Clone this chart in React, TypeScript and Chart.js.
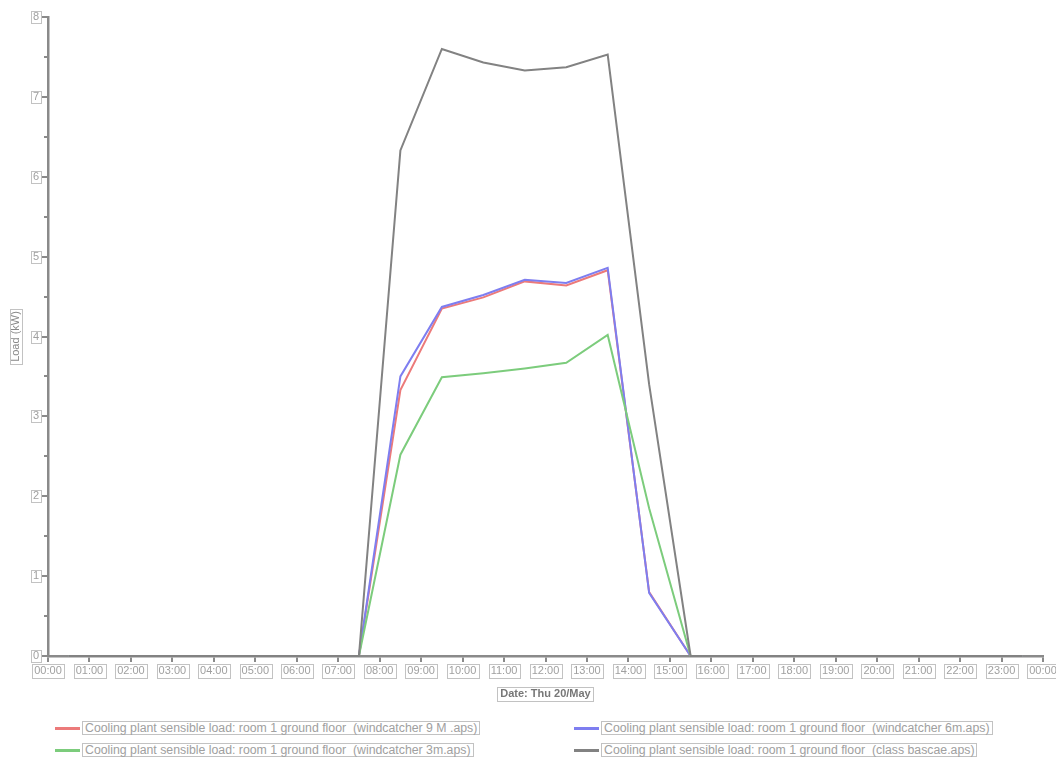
import React, { useEffect, useRef } from "react";
import { Chart, registerables } from "chart.js";

Chart.register(...registerables);

const TIMES = [
  "00:30", "01:30", "02:30", "03:30", "04:30", "05:30", "06:30", "07:30",
  "08:30", "09:30", "10:30", "11:30", "12:30", "13:30", "14:30", "15:30",
  "16:30", "17:30", "18:30", "19:30", "20:30", "21:30", "22:30", "23:30",
];

const TICK_LABELS = [
  "00:00", "01:00", "02:00", "03:00", "04:00", "05:00", "06:00", "07:00",
  "08:00", "09:00", "10:00", "11:00", "12:00", "13:00", "14:00", "15:00",
  "16:00", "17:00", "18:00", "19:00", "20:00", "21:00", "22:00", "23:00", "00:00",
];

const Y_TICKS = ["0", "1", "2", "3", "4", "5", "6", "7", "8"];

const WIND_9M = [0, 0, 0, 0, 0, 0, 0, 0, 3.33, 4.35, 4.49, 4.69, 4.64, 4.83, 0.8, 0, 0, 0, 0, 0, 0, 0, 0, 0];
const WIND_6M = [0, 0, 0, 0, 0, 0, 0, 0, 3.5, 4.37, 4.52, 4.71, 4.67, 4.86, 0.79, 0, 0, 0, 0, 0, 0, 0, 0, 0];
const WIND_3M = [0, 0, 0, 0, 0, 0, 0, 0, 2.52, 3.49, 3.54, 3.6, 3.67, 4.02, 1.85, 0, 0, 0, 0, 0, 0, 0, 0, 0];
const CLASS_BASE = [0, 0, 0, 0, 0, 0, 0, 0, 6.33, 7.6, 7.43, 7.33, 7.37, 7.53, 3.4, 0, 0, 0, 0, 0, 0, 0, 0, 0];

const SERIES_NAMES = [
  "Cooling plant sensible load: room 1 ground floor  (windcatcher 9 M .aps)",
  "Cooling plant sensible load: room 1 ground floor  (windcatcher 6m.aps)",
  "Cooling plant sensible load: room 1 ground floor  (windcatcher 3m.aps)",
  "Cooling plant sensible load: room 1 ground floor  (class bascae.aps)",
];
const SERIES_COLORS = ["#ec7a7a", "#7e7ef0", "#7ccc7c", "#828282"];
const SERIES_VALUES = [WIND_9M, WIND_6M, WIND_3M, CLASS_BASE];
const SERIES_ORDER = [4, 3, 2, 1];

const X_TITLE = "Date: Thu 20/May";
const Y_TITLE = "Load (kW)";

const FONT = '"Liberation Sans", Arial, sans-serif';
const AXIS_COLOR = "#8a8a8a";
const LABEL_COLOR = "#a0a0a0";
const BOX_COLOR = "#c2c2c2";
const X_TICK_LEN = 6;
const Y_TICK_LEN = 7;
const TICK_PAD = 2;
const X_TITLE_PAD = 9;
const Y_TITLE_PAD = 9;

const toHours = (t: string) => {
  const [h, m] = t.split(":").map(Number);
  return h + m / 60;
};

const boxPlugin = {
  id: "labelBoxes",
  afterDraw(chart: any) {
    const ctx = chart.ctx;
    const xs = chart.scales.x;
    const ys = chart.scales.y;
    ctx.save();
    ctx.strokeStyle = BOX_COLOR;
    ctx.lineWidth = 1;
    ctx.font = `11px ${FONT}`;
    const lh = 11 * 1.2;
    xs.ticks.forEach((_t: any, i: number) => {
      const label = TICK_LABELS[i];
      const w = ctx.measureText(label).width;
      const x = xs.getPixelForTick(i);
      const cy = xs.top + X_TICK_LEN + TICK_PAD + lh / 2;
      ctx.strokeRect(Math.round(x - w / 2 - 2) + 0.5, Math.round(cy - 7) + 0.5, Math.round(w + 4), 14);
    });
    ys.ticks.forEach((_t: any, i: number) => {
      const label = Y_TICKS[i];
      const w = ctx.measureText(label).width;
      const y = ys.getPixelForTick(i);
      const right = ys.right - Y_TICK_LEN - TICK_PAD;
      ctx.strokeRect(Math.round(right - w - 2) + 0.5, Math.round(y - 6) + 0.5, Math.round(w + 4), 12);
    });
    ctx.strokeStyle = AXIS_COLOR;
    ctx.lineWidth = 2;
    for (let v = 0.5; v < 8; v += 1) {
      const y = Math.round(ys.getPixelForValue(v));
      ctx.beginPath();
      ctx.moveTo(ys.right - 4, y);
      ctx.lineTo(ys.right, y);
      ctx.stroke();
    }
    ctx.strokeStyle = BOX_COLOR;
    ctx.lineWidth = 1;
    ctx.font = `bold 11px ${FONT}`;
    const tw = ctx.measureText(X_TITLE).width;
    const tcx = (chart.chartArea.left + chart.chartArea.right) / 2;
    const tcy = xs.bottom - lh / 2 - X_TITLE_PAD;
    ctx.strokeRect(Math.round(tcx - tw / 2 - 3) + 0.5, Math.round(tcy - 7) + 0.5, Math.round(tw + 6), 14);
    ctx.font = `11px ${FONT}`;
    const yw = ctx.measureText(Y_TITLE).width;
    const ycx = ys.left + lh / 2 + Y_TITLE_PAD;
    const ycy = (ys.top + ys.bottom) / 2;
    ctx.strokeRect(Math.round(ycx - 6) + 0.5, Math.round(ycy - yw / 2 - 2) + 0.5, 12, Math.round(yw + 4));
    ctx.restore();
  },
};

export default function App() {
  const canvasRef = useRef<HTMLCanvasElement | null>(null);

  useEffect(() => {
    const canvas = canvasRef.current;
    if (!canvas) return;
    const datasets = SERIES_VALUES.map((vals, si) => ({
      label: SERIES_NAMES[si],
      data: vals.map((v, i) => ({ x: toHours(TIMES[i]), y: v })),
      borderColor: SERIES_COLORS[si],
      backgroundColor: SERIES_COLORS[si],
      borderWidth: 2,
      pointRadius: 0,
      tension: 0,
      order: SERIES_ORDER[si],
      clip: false as any,
    }));
    const chart = new Chart(canvas, {
      type: "line",
      data: { datasets },
      options: {
        animation: false,
        responsive: false,
        devicePixelRatio: 1,
        layout: { padding: { top: 17, right: 13, left: 0, bottom: 0 } },
        plugins: {
          legend: { display: false },
          tooltip: { enabled: false },
        },
        scales: {
          x: {
            type: "linear",
            min: 0,
            max: 24,
            afterFit: (s: any) => {
              s.height = 54;
              s.paddingLeft = 0;
              s.paddingRight = 0;
            },
            ticks: {
              stepSize: 1,
              autoSkip: false,
              maxRotation: 0,
              padding: TICK_PAD,
              color: LABEL_COLOR,
              font: { family: FONT, size: 11 },
              callback: (_v: any, i: number) => TICK_LABELS[i],
            },
            grid: {
              drawOnChartArea: false,
              drawTicks: true,
              tickLength: X_TICK_LEN,
              color: AXIS_COLOR,
              lineWidth: 2,
            },
            border: { display: true, color: AXIS_COLOR, width: 2.5 },
            title: {
              display: true,
              text: X_TITLE,
              color: "#777777",
              font: { family: FONT, size: 11, weight: "bold" },
              padding: { top: 0, bottom: X_TITLE_PAD },
            },
          },
          y: {
            type: "linear",
            min: 0,
            max: 8,
            afterFit: (s: any) => {
              s.width = 48;
              s.paddingTop = 0;
              s.paddingBottom = 0;
            },
            ticks: {
              stepSize: 1,
              padding: TICK_PAD,
              color: LABEL_COLOR,
              font: { family: FONT, size: 11 },
              callback: (_v: any, i: number) => Y_TICKS[i],
            },
            grid: {
              drawOnChartArea: false,
              drawTicks: true,
              tickLength: Y_TICK_LEN,
              color: AXIS_COLOR,
              lineWidth: 2,
            },
            border: { display: true, color: AXIS_COLOR, width: 2.5 },
            title: {
              display: true,
              text: Y_TITLE,
              color: "#888888",
              font: { family: FONT, size: 11 },
              padding: { top: Y_TITLE_PAD, bottom: 0 },
            },
          },
        },
      },
      plugins: [boxPlugin],
    } as any);
    return () => chart.destroy();
  }, []);

  const legendPos = [
    { lineX: 55, boxX: 82, cy: 728 },
    { lineX: 574, boxX: 601, cy: 728 },
    { lineX: 55, boxX: 82, cy: 750 },
    { lineX: 574, boxX: 601, cy: 750 },
  ];

  return (
    <div
      style={{
        position: "fixed",
        left: 0,
        top: 0,
        width: 1056,
        height: 758,
        background: "#ffffff",
        overflow: "hidden",
      }}
    >
      <canvas ref={canvasRef} width={1056} height={710} style={{ display: "block" }} />
      {SERIES_NAMES.map((name, i) => (
        <React.Fragment key={i}>
          <div
            style={{
              position: "absolute",
              left: legendPos[i].lineX,
              top: legendPos[i].cy - 1.5,
              width: 25,
              height: 3,
              background: SERIES_COLORS[i],
            }}
          />
          <div
            style={{
              position: "absolute",
              left: legendPos[i].boxX,
              top: legendPos[i].cy - 7,
              height: 12,
              lineHeight: "12px",
              border: `1px solid ${BOX_COLOR}`,
              padding: "0 2px",
              fontFamily: FONT,
              fontSize: 12.3,
              color: LABEL_COLOR,
              whiteSpace: "pre",
            }}
          >
            {name}
          </div>
        </React.Fragment>
      ))}
    </div>
  );
}
